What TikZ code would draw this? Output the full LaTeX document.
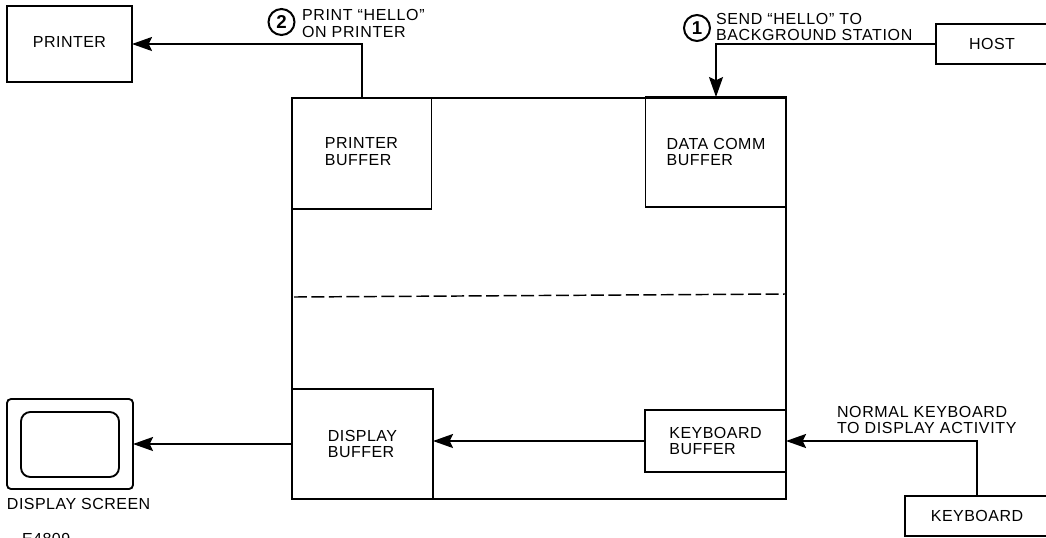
\documentclass[tikz,border=0pt]{standalone}
\usepackage{fontspec}
\setmainfont[LetterSpace=3]{Liberation Sans}
\newfontfamily\notefont[LetterSpace=4]{Liberation Sans}
\usetikzlibrary{arrows.meta}
\tikzset{
  x=0.75pt,y=-0.75pt,
  every node/.style={font=\fontsize{12pt}{12.4pt}\selectfont,inner sep=0pt,outer sep=0pt},
  box/.style={draw=black,line width=1.4pt,align=left},
  note/.style={align=left,anchor=west,font=\fontsize{12pt}{12.2pt}\selectfont\notefont},
  num/.style={draw=black,circle,line width=1.5pt,minimum size=19.5pt,font=\fontsize{14pt}{14pt}\selectfont\bfseries},
  arrow/.style={draw=black,line width=1.5pt,-{Stealth[length=15pt,width=10.5pt,inset=2.5pt]}},
  raised/.style={text depth=3pt}
}
\newcommand{\boxat}[7][]{\node[box,#1,minimum width=#5*0.75pt,minimum height=#6*0.75pt] (#2) at (#3,#4) {#7};}
\begin{document}
\begin{tikzpicture}
\useasboundingbox (0,0) rectangle (1046,537);
\clip (0,0) rectangle (1046,537);
\boxat{memory}{539}{298.5}{494}{401}{}
\boxat[raised]{printerbuf}{361.5}{153.5}{140}{111}{PRINTER\\BUFFER}
\boxat{databuf}{716}{152}{141}{110}{DATA COMM\\BUFFER}
\boxat{dispbuf}{362.5}{444}{141}{110}{DISPLAY\\BUFFER}
\boxat{keybuf}{715.5}{441}{141}{62}{KEYBOARD\\BUFFER}
\boxat[raised]{printer}{69.5}{44}{125}{76}{PRINTER}
\boxat{host}{992}{44}{112}{40}{HOST}
\boxat{keyboard}{977}{516}{144}{40}{KEYBOARD}
\node[box,rounded corners=3pt,minimum width=126*0.75pt,minimum height=90*0.75pt] (screen) at (70,444) {};
\node[box,rounded corners=7pt,minimum width=98*0.75pt,minimum height=65*0.75pt] (glass) at (70,444.5) {};
\node[anchor=west] (screenlabel) at (7,504) {DISPLAY SCREEN};
\node[anchor=west] (fignum) at (22,539) {E4809};
\node[num] (one) at (697,28) {1};
\node[num] (two) at (281.5,22) {2};
\node[note] (sendnote) at (716,27) {SEND “HELLO” TO\\BACKGROUND STATION};
\node[note] (printnote) at (302,23.5) {PRINT “HELLO”\\ON PRINTER};
\node[note] (kbnote) at (837,420) {NORMAL KEYBOARD\\TO DISPLAY ACTIVITY};
\coordinate (dashl) at (294,297);
\coordinate (dashr) at (785,294);
\draw[black,line width=1.1pt,dash pattern=on 9.7pt off 3.4pt] (dashl) -- (dashr);
\draw[arrow] (printerbuf.north) |- (printer.east);
\draw[arrow] (host.west) -| (databuf.north);
\draw[arrow] (keyboard.north) |- (keybuf.east);
\draw[arrow] (keybuf.west) -- (keybuf.west -| dispbuf.east);
\draw[arrow] (dispbuf.west) -- (screen.east);
\end{tikzpicture}
\end{document}
